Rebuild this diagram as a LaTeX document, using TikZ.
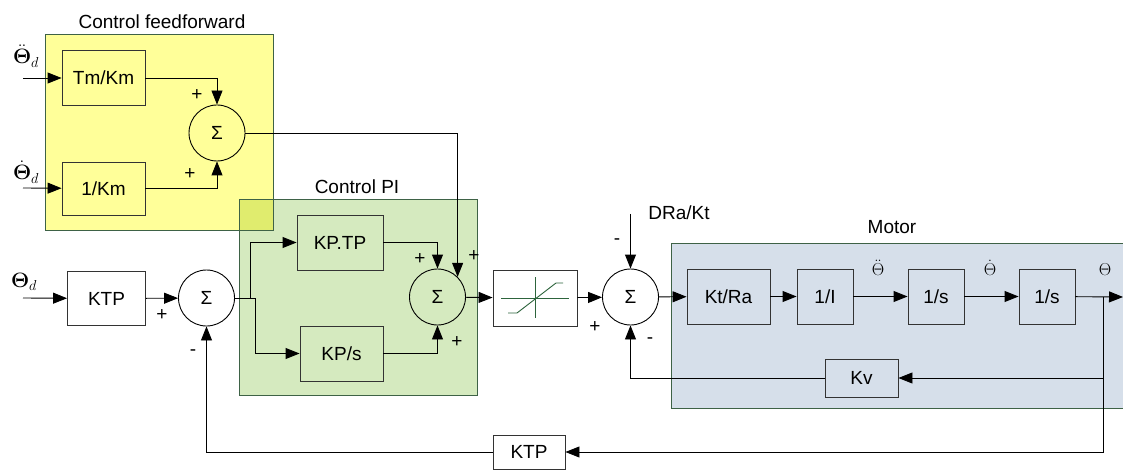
\documentclass[tikz,border=0pt]{standalone}
\usepackage{amsmath}
\usepackage{fontspec}
\setmainfont{Liberation Sans}
\usetikzlibrary{arrows.meta,positioning,calc}
\definecolor{FeedYellow}{RGB}{255,255,153}
\definecolor{PIGreen}{RGB}{213,234,191}
\definecolor{MotorBlue}{RGB}{214,223,234}
\definecolor{OverlapLime}{RGB}{224,236,110}
\definecolor{RegionEdge}{RGB}{62,98,70}
\definecolor{SatGreen}{RGB}{45,100,60}
\tikzset{
  blk/.style={draw=black!80, line width=0.9pt, minimum width=56pt,
    minimum height=55pt, inner sep=0pt},
  sumnode/.style={circle, draw=black, line width=0.9pt, minimum size=56pt,
    inner sep=0pt},
  sig/.style={-{Triangle[length=14pt,width=11pt]}, line width=0.9pt},
  region/.style={draw=RegionEdge, line width=1pt},
  sgn/.style={inner sep=0pt},
  thin/.style={font=\fontsize{21}{23}\selectfont, inner sep=0pt},
  thmot/.style={font=\fontsize{17}{19}\selectfont, inner sep=0pt}
}
\begin{document}
\begin{tikzpicture}[x=1pt, y=-1pt, font=\fontsize{19}{22}\selectfont]
  \useasboundingbox (0,0) rectangle (1123,470);
  % regions
  \fill[FeedYellow] (45,35) rectangle (273,231);
  \fill[PIGreen] (239,200) rectangle (477,395);
  \fill[OverlapLime] (239,200) rectangle (273,231);
  \fill[MotorBlue] (671,243) rectangle (1130,408);
  \draw[region] (45,35) rectangle (273,231);
  \draw[region] (239,200) rectangle (477,395);
  \draw[region] (671,243) rectangle (1130,408);
  \node (fftitle) at (162,22) {Control feedforward};
  \node (pititle) at (357,187) {Control PI};
  \node (mottitle) at (892,227) {Motor};

  % feedforward
  \node[thin] (thdd) at (26,56) {$\ddot{\boldsymbol{\Theta}}_d$};
  \node[thin] (thd) at (26,172) {$\dot{\boldsymbol{\Theta}}_d$};
  \coordinate (in1) at (23,78);
  \coordinate (in2) at (23,188);
  \node[blk, minimum width=83pt] (tmkm) at (103.5,78) {Tm/Km};
  \node[blk, minimum width=83pt, minimum height=53pt] (onekm) at (103.5,188.5) {1/Km};
  \node[sumnode] (sumff) at (217,133) {Σ};
  \draw[sig] (in1) -- (tmkm);
  \draw[sig] (in2) -- (onekm);
  \draw[sig] (tmkm) -| (sumff);
  \draw[sig] (onekm) -| (sumff);
  \node[sgn] (pff1) at (197,95) {+};
  \node[sgn] (pff2) at (190,174) {+};

  % position loop and PI
  \node[thin] (th) at (24,282) {$\boldsymbol{\Theta}_d$};
  \coordinate (in3) at (23,298);
  \node[blk, minimum width=78pt, minimum height=54pt, fill=white] (ktp) at (106.5,298.5) {KTP};
  \node[sumnode] (sumA) at (206.5,298) {Σ};
  \node[blk, minimum width=86pt] (kptp) at (340,242.5) {KP.TP};
  \node[blk, minimum width=83pt] (kps) at (341.5,353.5) {KP/s};
  \node[sumnode] (sumpi) at (437.5,297) {Σ};
  \draw[sig] (in3) -- (ktp);
  \draw[sig] (ktp) -- (sumA);
  \draw[sig] (sumA.east) -- ++(15.5,0) |- (kptp);
  \draw[sig] (sumA.east) -- ++(20.5,0) |- (kps);
  \draw[sig] (kptp) -| (sumpi);
  \draw[sig] (kps) -| (sumpi);
  \draw[sig] (sumff) -| (sumpi.45);
  \node[sgn] (pa) at (162,315) {+};
  \node[sgn] (ma) at (193,353) {-};
  \node[sgn] (ppi1) at (420,259) {+};
  \node[sgn] (ppi2) at (474,256) {+};
  \node[sgn] (ppi3) at (457,342) {+};

  % saturation
  \node[blk, minimum width=84pt, minimum height=56pt, fill=white] (sat) at (535,298) {};
  \draw[SatGreen, line width=0.9pt] ($(sat)+(-34,0)$) -- ($(sat)+(34,0)$);
  \draw[SatGreen, line width=0.9pt] ($(sat)+(0,-21)$) -- ($(sat)+(0,20)$);
  \draw[SatGreen, line width=0.9pt] ($(sat)+(-27,15)$) -- ($(sat)+(-18,15)$)
    -- ($(sat)+(21,-15)$) -- ($(sat)+(28,-15)$);
  \draw[sig] (sumpi) -- (sat);

  % motor
  \node[sumnode] (summ) at (630.5,297) {Σ};
  \node (dlabel) at (679,213) {DRa/Kt};
  \coordinate (dist) at (630.5,214);
  \node[blk, minimum width=83pt] (ktra) at (728.5,296.5) {Kt/Ra};
  \node[blk] (inv) at (825,296.5) {1/I};
  \node[blk] (int1) at (936,296.5) {1/s};
  \node[blk] (int2) at (1047,296.5) {1/s};
  \node[blk, minimum width=73pt, minimum height=38pt] (kv) at (861.5,378) {Kv};
  \node[thmot] (acc) at (878,268) {$\ddot{\Theta}$};
  \node[thmot] (vel) at (990,268) {$\dot{\Theta}$};
  \node[thmot] (pos) at (1105,270) {$\Theta$};
  \coordinate (jn) at (1103,297);
  \coordinate (out) at (1123,297);
  \draw[sig] (sat) -- (summ);
  \draw[sig] (dist) -- (summ);
  \draw[sig] (summ) -- (ktra);
  \draw[sig] (ktra) -- (inv);
  \draw[sig] (inv) -- (int1);
  \draw[sig] (int1) -- (int2);
  \draw[sig] (int2) -- (out);
  \draw[sig] (jn) |- (kv);
  \draw[sig] (kv) -| (summ);
  \node[sgn] (mm1) at (617,242) {-};
  \node[sgn] (pm) at (595,327) {+};
  \node[sgn] (mm2) at (650,341) {-};

  % outer feedback
  \node[blk, minimum width=72pt, minimum height=34pt, fill=white] (ktpfb) at (529,452) {KTP};
  \draw[sig] (jn) |- (ktpfb);
  \draw[sig] (ktpfb) -| (sumA);
\end{tikzpicture}
\end{document}
